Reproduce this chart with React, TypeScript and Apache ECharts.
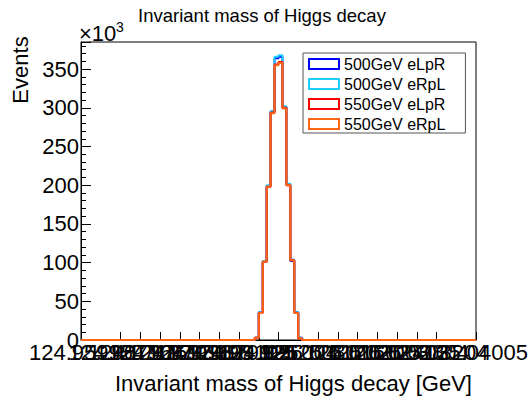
import React, { useEffect, useRef } from 'react';
import * as echarts from 'echarts';

// ---- data ----
const NBINS = 100; // histogram bins across the x range
const FIRST_FILLED_BIN = 44; // index of the first bin listed below
const seriesNames = ['500GeV eLpR', '500GeV eRpL', '550GeV eLpR', '550GeV eRpL'];
const seriesColors = ['#0000ff', '#1ecbff', '#ff0000', '#ff6414'];
// bin contents (x10^3) for bins 44..55, all other bins are empty
const blue500LpR = [3, 36, 101, 199, 295, 364, 366, 301, 201, 102, 36, 3];
const cyan500RpL = [3, 36, 102, 200, 296, 366, 368, 302, 202, 104, 36, 3];
const red550LpR = [3, 35, 101, 198, 294, 356, 359, 300, 200, 103, 35, 2];
const orange550RpL = [3, 35, 101, 198, 293, 355, 358, 299, 200, 103, 35, 2];
const seriesValues = [blue500LpR, cyan500RpL, red550LpR, orange550RpL];
const xTickLabels = [
  '124.95995', '124.96396', '124.96796', '124.97197', '124.97597', '124.97998',
  '124.98398', '124.98799', '124.99199', '124.996', '125', '125.004',
  '125.00801', '125.01202', '125.01602', '125.02003', '125.02403', '125.02804',
  '125.03204', '125.03605', '125.04005',
];
const yTickStep = 50;
const yMax = 385;

const FONT = 'Liberation Sans';

function buildSteps(values: number[]): number[][] {
  const pts: number[][] = [];
  for (let i = 0; i < NBINS; i++) {
    const k = i - FIRST_FILLED_BIN;
    const v = k >= 0 && k < values.length ? values[k] : 0;
    pts.push([i, v]);
  }
  pts.push([NBINS, 0]);
  return pts;
}

export default function App() {
  const ref = useRef<HTMLDivElement>(null);
  useEffect(() => {
    if (!ref.current) return;
    const chart = echarts.init(ref.current, undefined, { renderer: 'svg' });
    const ticksPerLabel = NBINS / (xTickLabels.length - 1);
    chart.setOption({
      animation: false,
      backgroundColor: '#fff',
      grid: {
        left: 81, top: 42, width: 397, height: 298,
        show: true, borderColor: '#000', borderWidth: 1, backgroundColor: 'transparent',
      },
      xAxis: {
        type: 'value', min: 0, max: NBINS, interval: ticksPerLabel,
        axisLine: { show: true, lineStyle: { color: '#000', width: 1 } },
        axisTick: { show: true, inside: true, length: 8, lineStyle: { color: '#000' } },
        splitLine: { show: false },
        axisLabel: {
          show: true, margin: 1, fontSize: 22, fontFamily: FONT, color: '#000',
          showMinLabel: true, showMaxLabel: true,
          formatter: (v: number) => xTickLabels[Math.round(v / ticksPerLabel)] ?? '',
        },
      },
      yAxis: {
        type: 'value', min: 0, max: yMax, interval: yTickStep,
        axisLine: { show: true, lineStyle: { color: '#000', width: 1 } },
        axisTick: { show: true, inside: true, length: 10, lineStyle: { color: '#000' } },
        minorTick: { show: true, splitNumber: 5, length: 5, lineStyle: { color: '#000' } },
        splitLine: { show: false },
        axisLabel: {
          margin: 2, fontSize: 22, fontFamily: FONT, color: '#000', showMaxLabel: false,
        },
      },
      legend: {
        orient: 'vertical', left: 303, top: 53,
        padding: [3, 20, 1, 5], itemGap: 4, itemWidth: 30, itemHeight: 10,
        backgroundColor: '#fff', borderColor: '#555', borderWidth: 1, borderRadius: 0,
        textStyle: { fontSize: 16, lineHeight: 16, fontFamily: FONT, color: '#000' },
        data: seriesNames.map((n, i) => ({
          name: n, icon: 'rect',
          itemStyle: { color: '#fff', borderColor: seriesColors[i], borderWidth: 2 },
        })),
      },
      series: seriesNames.map((n, i) => ({
        name: n, type: 'line', step: 'end', symbol: 'none', showSymbol: false,
        clip: false,
        data: buildSteps(seriesValues[i]),
        lineStyle: { color: seriesColors[i], width: 2 },
        itemStyle: { color: seriesColors[i] },
      })),
      graphic: [
        { type: 'text', x: 262, y: 15, style: { text: 'Invariant mass of Higgs decay', fontSize: 18.5, fontFamily: FONT, fill: '#000', textAlign: 'center', textVerticalAlign: 'middle' } },
        { type: 'text', x: 79, y: 33, style: { text: '×10', fontSize: 22, fontFamily: FONT, fill: '#000', textAlign: 'left', textVerticalAlign: 'middle' } },
        { type: 'text', x: 116, y: 27, style: { text: '3', fontSize: 14, fontFamily: FONT, fill: '#000', textAlign: 'left', textVerticalAlign: 'middle' } },
        { type: 'text', x: 20, y: 70, rotation: Math.PI / 2, style: { text: 'Events', fontSize: 22, fontFamily: FONT, fill: '#000', textAlign: 'center', textVerticalAlign: 'middle' } },
        { type: 'text', x: 472, y: 383, style: { text: 'Invariant mass of Higgs decay [GeV]', fontSize: 22, fontFamily: FONT, fill: '#000', textAlign: 'right', textVerticalAlign: 'middle' } },
      ],
    });
    return () => chart.dispose();
  }, []);
  return <div ref={ref} style={{ position: 'fixed', left: 0, top: 0, width: 531, height: 398 }} />;
}
